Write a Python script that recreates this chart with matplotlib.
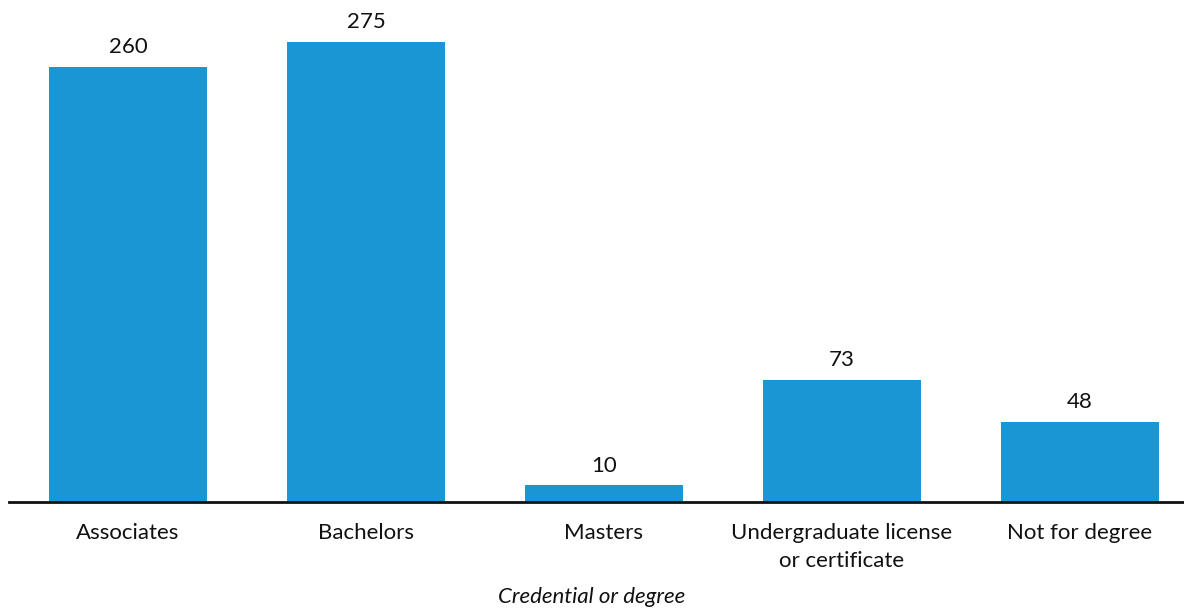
import matplotlib.pyplot as plt

plt.rcParams['font.family'] = ['Lato', 'DejaVu Sans']

categorias = ["Associates", "Bachelors", "Masters",
              "Undergraduate license\nor certificate", "Not for degree"]
valores = [260, 275, 10, 73, 48]

fig = plt.figure(figsize=(11.84, 6.09), dpi=100)
ax = fig.add_axes([0.0076, 0.1757, 0.9924, 0.8243])

x = list(range(len(categorias)))
barras = ax.bar(x, valores, width=0.664, color="#1897d4")

for b, v in zip(barras, valores):
  ax.annotate(str(v), (b.get_x() + b.get_width() / 2, v),
              xytext=(0, 7), textcoords="offset points",
              ha="center", va="bottom", fontsize=16, color="#111111")

ax.set_xlim(-0.5, 4.437)
ax.set_ylim(0, 300)
ax.set_xticks(x)
ax.set_xticklabels(categorias, fontsize=16, color="#111111", linespacing=1.5)
ax.tick_params(axis="x", length=0, pad=15)
ax.set_yticks([])
for s in ["top", "right", "left"]:
  ax.spines[s].set_visible(False)
ax.spines["bottom"].set_linewidth(2)
ax.spines["bottom"].set_color("#111111")

fig.text(0.5, 0.003, "Credential or degree", ha="center", va="bottom",
         fontsize=16, style="italic", color="#111111")

plt.savefig("out.png", dpi=100)
plt.close()
